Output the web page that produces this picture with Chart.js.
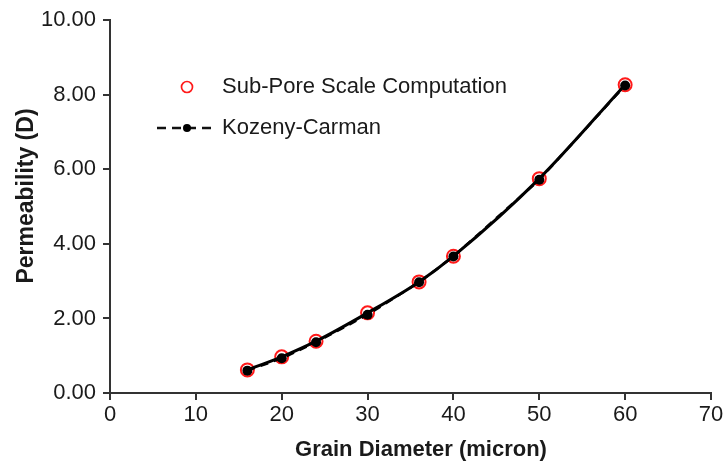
<!DOCTYPE html>
<html>
<head>
<meta charset="utf-8">
<script src="https://cdn.jsdelivr.net/npm/chart.js@4.4.0/dist/chart.umd.min.js"></script>
<style>
  html, body { margin: 0; padding: 0; background: #ffffff; }
  #wrap { width: 727px; height: 463px; position: relative; }
</style>
</head>
<body>
<div id="wrap"><canvas id="c" width="727" height="463"></canvas></div>
<script>
const grainDiameter = [16, 20, 24, 30, 36, 40, 50, 60];
const subPorePerm   = [0.62, 0.97, 1.39, 2.15, 2.98, 3.67, 5.75, 8.27];
const kozenyPerm    = [0.60, 0.93, 1.36, 2.10, 2.97, 3.66, 5.72, 8.25];
const seriesNames   = ['Sub-Pore Scale Computation', 'Kozeny-Carman'];
const xTicks = [0, 10, 20, 30, 40, 50, 60, 70];
const yTicks = [0, 2, 4, 6, 8, 10];
const xTitle = 'Grain Diameter (micron)';
const yTitle = 'Permeability (D)';

const toXY = (xs, ys) => xs.map((x, i) => ({ x: x, y: ys[i] }));
const FONT = "'Liberation Sans', Arial, Helvetica, sans-serif";
const TXT = '#1a1a1a';
const AX = '#333333';

const legendPlugin = {
  id: 'insideLegend',
  afterDraw(chart) {
    const ctx = chart.ctx;
    ctx.save();
    // Sub-pore entry
    ctx.beginPath();
    ctx.arc(187, 87, 5.5, 0, Math.PI * 2);
    ctx.strokeStyle = '#ff1a1a';
    ctx.lineWidth = 1.7;
    ctx.stroke();
    // Kozeny-Carman entry
    ctx.beginPath();
    ctx.setLineDash([9, 6]);
    ctx.moveTo(157, 128);
    ctx.lineTo(216, 128);
    ctx.strokeStyle = '#111';
    ctx.lineWidth = 2.5;
    ctx.stroke();
    ctx.setLineDash([]);
    ctx.beginPath();
    ctx.arc(187, 128, 4, 0, Math.PI * 2);
    ctx.fillStyle = '#000';
    ctx.fill();
    ctx.font = '22px ' + FONT;
    ctx.fillStyle = TXT;
    ctx.textBaseline = 'middle';
    ctx.textAlign = 'left';
    ctx.fillText(seriesNames[0], 222, 87);
    ctx.fillText(seriesNames[1], 222, 128);
    // X axis title
    ctx.font = 'bold 22px ' + FONT;
    ctx.textAlign = 'center';
    ctx.fillText(xTitle, 421, 450);
    // Y axis title
    ctx.translate(27, 196);
    ctx.rotate(-Math.PI / 2);
    ctx.font = 'bold 23px ' + FONT;
    ctx.fillText(yTitle, 0, 0);
    ctx.restore();
  }
};

new Chart(document.getElementById('c'), {
  type: 'scatter',
  data: {
    datasets: [
      {
        label: seriesNames[0],
        data: toXY(grainDiameter, subPorePerm),
        showLine: false,
        pointStyle: 'circle',
        pointRadius: 6.5,
        pointBorderWidth: 2,
        pointBorderColor: '#ff1a1a',
        pointBackgroundColor: 'rgba(255,255,255,0)',
        order: 3
      },
      {
        label: 'fit',
        data: toXY(grainDiameter, subPorePerm),
        showLine: true,
        borderColor: '#000',
        borderWidth: 3,
        cubicInterpolationMode: 'monotone',
        pointRadius: 0,
        order: 2
      },
      {
        label: seriesNames[1],
        data: toXY(grainDiameter, kozenyPerm),
        showLine: true,
        borderColor: '#000',
        borderWidth: 2.5,
        borderDash: [8, 6],
        pointRadius: 5,
        pointBorderWidth: 0,
        pointBackgroundColor: '#000',
        pointBorderColor: '#000',
        order: 1
      }
    ]
  },
  options: {
    responsive: false,
    animation: false,
    devicePixelRatio: 1,
    layout: { padding: { top: 17, right: 16, bottom: 0, left: 0 } },
    plugins: { legend: { display: false }, tooltip: { enabled: false } },
    scales: {
      x: {
        type: 'linear',
        min: 0, max: 70,
        afterBuildTicks: s => { s.ticks = xTicks.map(v => ({ value: v })); },
        afterFit: s => { s.height = 70; },
        grid: { drawOnChartArea: false, drawTicks: true, tickLength: 7, color: AX, lineWidth: 2 },
        border: { display: true, color: AX, width: 2 },
        ticks: { color: TXT, font: { family: FONT, size: 22 }, padding: 2, maxRotation: 0 },
        title: { display: false }
      },
      y: {
        type: 'linear',
        min: 0, max: 10,
        afterBuildTicks: s => { s.ticks = yTicks.map(v => ({ value: v })); },
        afterFit: s => { s.width = 110; },
        grid: { drawOnChartArea: false, drawTicks: true, tickLength: 7, color: AX, lineWidth: 2 },
        border: { display: true, color: AX, width: 2 },
        ticks: { color: TXT, font: { family: FONT, size: 22 }, padding: 7,
                 callback: v => Number(v).toFixed(2) },
        title: { display: false }
      }
    }
  },
  plugins: [legendPlugin]
});
</script>
</body>
</html>
